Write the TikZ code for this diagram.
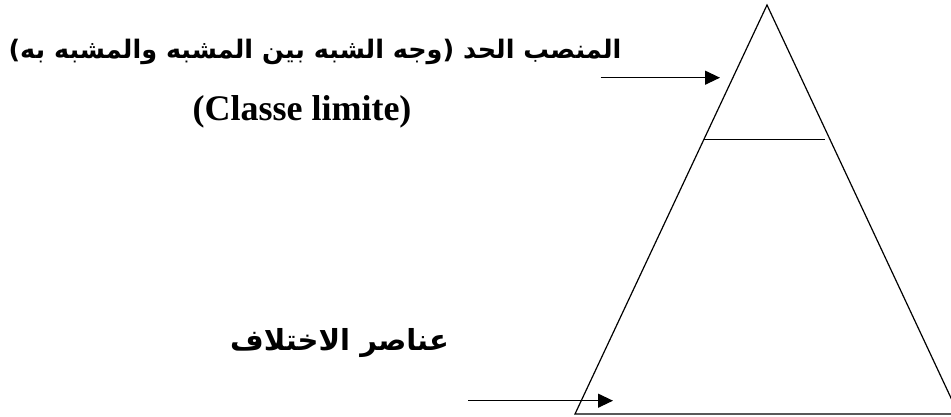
\documentclass[tikz,border=0pt]{standalone}
\usepackage{fontspec}
\setmainfont{Liberation Serif}
\newfontfamily\arabicfont[Script=Arabic]{DejaVu Sans}
\TeXXeTstate=1
\usetikzlibrary{arrows.meta}

\begin{document}
\begin{tikzpicture}[x=1pt, y=1pt,
  every node/.style={inner sep=0pt, outer sep=0pt},
  arlabel/.style={font=\arabicfont\bfseries\fontsize{25.5}{30}\selectfont},
  frlabel/.style={font=\bfseries\fontsize{36}{40}\selectfont},
  pyr/.style={line width=1.2pt, line join=miter},
  pointer/.style={line width=1.2pt, -{Triangle[length=15pt, width=14pt]}}
]
\useasboundingbox (0,0) rectangle (951,416);
\clip (0,0) rectangle (951,416);
% pyramide
\coordinate (sommet) at (767,411);
\coordinate (basg) at (575,2);
\coordinate (basd) at (958.5,2);
\coordinate (coupeg) at (704,276.7);
\coordinate (couped) at (825,276.7);
\draw[pyr] (sommet) -- (basg) -- (basd) -- cycle;
\draw[line width=1pt] (coupeg) -- (couped);
% textes
\node[arlabel, anchor=base] (limite) at (315,357) {\beginR المنصب الحد (وجه الشبه بين المشبه والمشبه به)\endR};
\node[frlabel, anchor=base] (classe) at (302,295) {(Classe limite)};
\node[arlabel, font=\arabicfont\bfseries\fontsize{29}{32}\selectfont, anchor=base] (diff) at (339.5,66) {\beginR عناصر الاختلاف\endR};
% fleches
\coordinate (haut) at (600.7,338.3);
\coordinate (hautfin) at (720,338.3);
\coordinate (bas) at (468,15.3);
\coordinate (basfin) at (613,15.3);
\draw[pointer] (haut) -- (hautfin);
\draw[pointer] (bas) -- (basfin);
\end{tikzpicture}
\end{document}
